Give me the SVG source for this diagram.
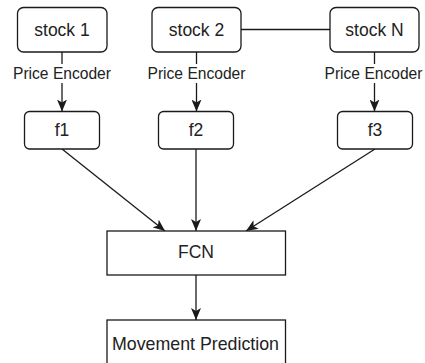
<svg xmlns="http://www.w3.org/2000/svg" width="425" height="363" viewBox="0 0 425 363">
  <style>
    .box { fill: #ffffff; stroke: #1a1a1a; stroke-width: 1.3; }
    .edge { fill: none; stroke: #1a1a1a; stroke-width: 1.3; }
    text { font-family: "Liberation Sans", Arial, sans-serif; font-size: 17.5px; fill: #222222; text-anchor: middle; }
    .lbl { font-size: 15.6px; }
  </style>
  <defs>
    <marker id="arrow" viewBox="0 0 12 10" refX="12" refY="5" markerWidth="12" markerHeight="10" markerUnits="userSpaceOnUse" orient="auto">
      <path d="M0,0 L12,5 L0,10 L3,5 z" fill="#1a1a1a"/>
    </marker>
  </defs>

  <!-- connectors -->
  <g id="connectors">
    <line class="edge" x1="241" y1="29.5" x2="330" y2="29.5"/>
    <line class="edge" x1="62" y1="52" x2="62" y2="111.5" marker-end="url(#arrow)"/>
    <line class="edge" x1="196.5" y1="52" x2="196.5" y2="111.5" marker-end="url(#arrow)"/>
    <line class="edge" x1="374.5" y1="52" x2="374.5" y2="111.5" marker-end="url(#arrow)"/>
    <line class="edge" x1="62" y1="149" x2="165" y2="231" marker-end="url(#arrow)"/>
    <line class="edge" x1="196" y1="149" x2="196" y2="231" marker-end="url(#arrow)"/>
    <line class="edge" x1="375" y1="149" x2="246" y2="231" marker-end="url(#arrow)"/>
    <line class="edge" x1="196" y1="275" x2="196" y2="320" marker-end="url(#arrow)"/>
    <!-- edge labels -->
    <g id="label-1">
      <rect x="12" y="64" width="100" height="19" fill="#ffffff"/>
      <text class="lbl" x="62" y="79">Price Encoder</text>
    </g>
    <g id="label-2">
      <rect x="146" y="64" width="101" height="19" fill="#ffffff"/>
      <text class="lbl" x="196.5" y="79">Price Encoder</text>
    </g>
    <g id="label-3">
      <rect x="324" y="64" width="100" height="19" fill="#ffffff"/>
      <text class="lbl" x="373.5" y="79">Price Encoder</text>
    </g>
  </g>

  <g id="stock1">
    <rect class="box" x="17.5" y="7.5" width="89.5" height="44.5" rx="6"/>
    <text x="62" y="35.5">stock 1</text>
  </g>
  <g id="stock2">
    <rect class="box" x="152" y="7.5" width="89" height="44.5" rx="6"/>
    <text x="196.5" y="35.5">stock 2</text>
  </g>
  <g id="stockN">
    <rect class="box" x="330" y="7.5" width="89" height="44.5" rx="6"/>
    <text x="374.5" y="35.5">stock N</text>
  </g>

  <g id="f1">
    <rect class="box" x="24.5" y="111.5" width="75" height="37.5" rx="5"/>
    <text x="62" y="136">f1</text>
  </g>
  <g id="f2">
    <rect class="box" x="158.5" y="111.5" width="75" height="37.5" rx="5"/>
    <text x="196" y="136">f2</text>
  </g>
  <g id="f3">
    <rect class="box" x="337.5" y="111.5" width="75" height="37.5" rx="5"/>
    <text x="375" y="136">f3</text>
  </g>

  <g id="fcn">
    <rect class="box" x="107" y="231" width="178.5" height="44"/>
    <text x="196" y="257.5">FCN</text>
  </g>

  <g id="movement-prediction">
    <rect class="box" x="107" y="320" width="178.5" height="44"/>
    <text x="195.5" y="349.5" style="font-size:17.8px">Movement Prediction</text>
  </g>
</svg>
